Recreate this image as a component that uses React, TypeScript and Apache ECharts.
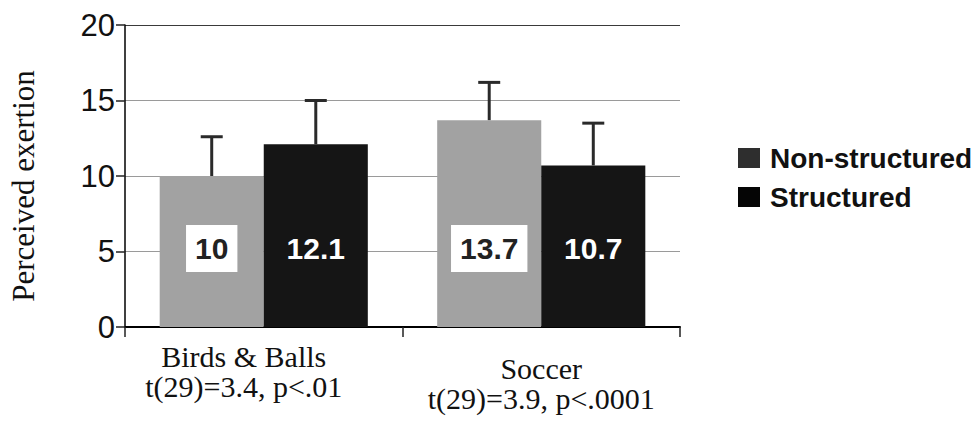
import React, { useEffect, useRef } from "react";
import * as echarts from "echarts";

const categories = ["Birds & Balls", "Soccer"];
const statLabels = ["t(29)=3.4, p<.01", "t(29)=3.9, p<.0001"];
const nonStructured = [10, 13.7];
const structured = [12.1, 10.7];
const nonStructuredErr = [2.6, 2.5];
const structuredErr = [2.9, 2.8];

const SANS = "Arial, 'Liberation Sans', Helvetica, sans-serif";
const SERIF = "'Times New Roman', 'Liberation Serif', Times, serif";

function errorSeries(name: string, values: number[], errs: number[], side: number) {
  return {
    type: "custom",
    name: name + " error",
    coordinateSystem: "cartesian2d",
    silent: true,
    z: 5,
    data: values.map((v, i) => [i, v, errs[i]]),
    renderItem: (params: any, api: any) => {
      const idx = api.value(0);
      const v = api.value(1);
      const e = api.value(2);
      const band = api.size([1, 0])[0];
      const off = (band * 0.75) / 4 * side;
      const base = api.coord([idx, v]);
      const top = api.coord([idx, v + e]);
      const x = base[0] + off;
      const style = { stroke: "#2a2a2a", lineWidth: 3 };
      return {
        type: "group",
        children: [
          { type: "line", shape: { x1: x, y1: base[1], x2: x, y2: top[1] }, style },
          { type: "line", shape: { x1: x - 11, y1: top[1], x2: x + 11, y2: top[1] }, style },
        ],
      };
    },
  };
}

export default function App() {
  const ref = useRef<HTMLDivElement>(null);
  useEffect(() => {
    if (!ref.current) return;
    const chart = echarts.init(ref.current, null, { renderer: "svg" });
    const labelBase = {
      show: true,
      position: "insideBottom",
      distance: 55,
      fontFamily: SANS,
      fontWeight: "bold",
      fontSize: 30,
      lineHeight: 31,
      padding: [8, 9, 8, 9],
      formatter: (p: any) => String(p.value),
    };
    chart.setOption({
      animation: false,
      backgroundColor: "#ffffff",
      grid: { left: 124, right: 298, top: 25, bottom: 95, containLabel: false },
      legend: {
        orient: "vertical",
        left: 733,
        top: 139,
        itemWidth: 22,
        itemHeight: 20,
        itemGap: 11,
        icon: "rect",
        textStyle: {
          fontFamily: SANS,
          fontWeight: "bold",
          fontSize: 28,
          color: "#111",
          padding: [0, 0, 0, 5],
        },
        data: [
          { name: "Non-structured", itemStyle: { color: "#2e2e2e" } },
          { name: "Structured", itemStyle: { color: "#050505" } },
        ],
      },
      xAxis: {
        type: "category",
        data: categories.map((c, i) => ({
          value: c,
          textStyle: { padding: i === 0 ? [0, 40, 0, 0] : [12, 0, 0, 0] },
        })),
        axisLine: { show: true, lineStyle: { color: "#000", width: 2 } },
        axisTick: { show: true, length: 10, lineStyle: { color: "#222", width: 1.5 } },
        axisLabel: {
          interval: 0,
          hideOverlap: false,
          margin: 14,
          fontFamily: SERIF,
          fontSize: 30,
          lineHeight: 30,
          color: "#111",
          formatter: (value: string, index: number) => value + "\n" + statLabels[index],
        },
        splitLine: { show: false },
      },
      yAxis: {
        type: "value",
        min: 0,
        max: 20,
        interval: 5,
        name: "Perceived exertion",
        nameLocation: "middle",
        nameGap: 86,
        nameTextStyle: {
          fontFamily: SERIF,
          fontSize: 31,
          color: "#111",
          padding: [0, 20, 0, 0],
        },
        axisLine: { show: true, lineStyle: { color: "#000", width: 1.5 } },
        axisTick: { show: true, length: 9, lineStyle: { color: "#222", width: 1.5 } },
        axisLabel: { margin: 10, fontFamily: SANS, fontSize: 31, color: "#111" },
        splitLine: {
          show: true,
          lineStyle: { color: ["#000", "#9a9a9a", "#9a9a9a", "#9a9a9a", "#3a3a3a"], width: 1.2 },
        },
      },
      series: [
        {
          type: "bar",
          name: "Non-structured",
          data: nonStructured,
          barGap: "0%",
          barCategoryGap: "25%",
          itemStyle: { color: "#a2a2a2" },
          label: { ...labelBase, color: "#222", backgroundColor: "#ffffff" },
        },
        {
          type: "bar",
          name: "Structured",
          data: structured,
          barGap: "0%",
          barCategoryGap: "25%",
          itemStyle: { color: "#151515" },
          label: { ...labelBase, color: "#ffffff" },
        },
        errorSeries("Non-structured", nonStructured, nonStructuredErr, -1),
        errorSeries("Structured", structured, structuredErr, 1),
      ],
    });
    return () => chart.dispose();
  }, []);
  return (
    <div
      ref={ref}
      style={{ position: "fixed", left: 0, top: 0, width: 978, height: 422, background: "#fff" }}
    />
  );
}
